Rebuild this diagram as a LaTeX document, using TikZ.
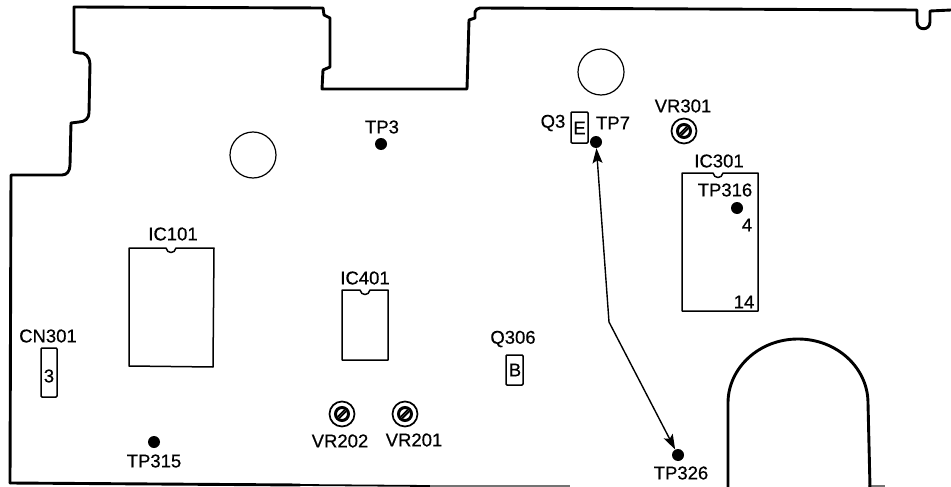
\documentclass[tikz,border=0pt]{standalone}
\usepackage{fontspec}
\setmainfont[FakeBold=0.5]{Liberation Sans}
\usetikzlibrary{arrows.meta}
\tikzset{
  lbl/.style={inner sep=0pt,font=\fontsize{18.5}{20}\selectfont,text=black},
  tpdot/.style={circle,fill=black,minimum size=12pt,inner sep=0pt},
  edge/.style={line width=2.9pt,line join=round,line cap=round},
  thinline/.style={line width=1.5pt,line join=round},
  hole/.style={line width=1.2pt},
  conn/.style={line width=1.4pt,{Stealth[length=15pt,width=10pt,inset=3pt]}-{Stealth[length=15pt,width=10pt,inset=3pt]}},
}
\newcommand{\screw}[3]{%
  \node[circle,draw,line width=1.7pt,minimum size=25pt,inner sep=0pt] (#1) at (#2,#3) {};
  \node[circle,draw,line width=3pt,minimum size=13pt,inner sep=0pt] (#1i) at (#2,#3) {};
  \begin{scope}[shift={(#2,#3)}]
    \draw[line width=1.9pt] (-4,2.6)--(2.6,-4);
    \draw[line width=1.9pt] (-2.6,4)--(4,-2.6);
  \end{scope}}
\begin{document}
\begin{tikzpicture}[x=1pt,y=-1pt]
\useasboundingbox (0,0) rectangle (951,487);
% board outline
\draw[edge] (10,483) -- (11,175) -- (62,175) .. controls (67,175) and (70,171) .. (70,165)
  -- (71,123) -- (79,122) .. controls (85,122) and (89,118) .. (89,113)
  -- (90,64) .. controls (90,57) and (85,52) .. (79,53) -- (74,52) -- (74,7) -- (323,8) -- (324,15)
  -- (330,18) -- (330,67) -- (323,70) -- (322,89) -- (467,89) -- (469,20) -- (475,18) -- (475,12)
  .. controls (476,9) and (477,9) .. (480,8) -- (917,10) -- (917,22)
  .. controls (917,31) and (930,31) .. (930,22) -- (930,11) -- (951,10);
\draw[edge] (10,483) -- (300,485);
\draw[line width=1.8pt] (300,485) -- (430,486);
\draw[line width=1.2pt,black!55] (430,486) -- (570,486);
\draw[line width=1.2pt,black!55] (868,486) -- (885,486);
% arch
\draw[edge] (728,487) -- (728,403) .. controls (728,368) and (759,339) .. (798,339)
  .. controls (837,339) and (868,368) .. (868,403) -- (870,487);
% mounting holes
\node[circle,draw,hole,minimum size=46pt,inner sep=0pt] (h1) at (253,155) {};
\node[circle,draw,hole,minimum size=46pt,inner sep=0pt] (h2) at (601,72) {};
% ICs
\draw[thinline] (129,248) -- (166,248) .. controls (167,254) and (175,254) .. (176,248) -- (214,248) -- (213,367) -- (129,366) -- cycle;
\draw[thinline] (342,290) -- (360,290) .. controls (361,296) and (369,296) .. (370,290) -- (388,290) -- (388,360) -- (342,360) -- cycle;
\draw[thinline] (682,173) -- (713,173) .. controls (714,179) and (722,179) .. (723,173) -- (758,173) -- (758,311) -- (682,311) -- cycle;
\node[lbl] (ic101) at (173,234) {IC101};
\node[lbl] (ic401) at (365,278) {IC401};
\node[lbl] (ic301) at (719,161) {IC301};
\node[lbl] (pin4) at (747,225) {4};
\node[lbl] (pin14) at (744,302) {14};
% small boxes
\node[draw,thinline,rounded corners=1pt,minimum width=16pt,minimum height=49pt,inner sep=0pt] (cnbox) at (49,372.5) {};
\node[lbl] (cn3) at (49,376) {3};
\node[lbl] (cn301) at (48,336) {CN301};
\node[draw,thinline,rounded corners=1pt,minimum width=17pt,minimum height=31pt,inner sep=0pt] (q3box) at (579.5,127.5) {};
\node[lbl] (q3e) at (579.5,128) {E};
\node[lbl] (q3) at (553,123) {Q3};
\node[draw,thinline,rounded corners=1pt,minimum width=17pt,minimum height=30pt,inner sep=0pt] (q306box) at (514.5,370) {};
\node[lbl] (q306b) at (515,370) {B};
\node[lbl] (q306) at (513,339) {Q306};
% test points
\node[tpdot] (tp3) at (381,144) {};
\node[lbl] (tp3l) at (382,127) {TP3};
\node[tpdot] (tp7) at (596,142) {};
\node[lbl] (tp7l) at (613,123) {TP7};
\node[tpdot] (tp316) at (737,208) {};
\node[lbl] (tp316l) at (725,190) {TP316};
\node[tpdot] (tp315) at (154,442) {};
\node[lbl] (tp315l) at (154,461) {TP315};
\node[tpdot] (tp326) at (678,455) {};
\node[lbl] (tp326l) at (681,473) {TP326};
% variable resistors
\screw{vr301}{684}{131}
\screw{vr202}{342}{414}
\screw{vr201}{405}{414}
\node[lbl] (vr301l) at (683,106) {VR301};
\node[lbl] (vr202l) at (340,441) {VR202};
\node[lbl] (vr201l) at (414,440) {VR201};
% connector
\coordinate (bend) at (609,322);
\draw[conn] (tp7) -- (bend) -- (tp326);
\end{tikzpicture}
\end{document}
